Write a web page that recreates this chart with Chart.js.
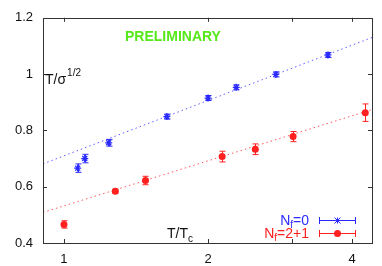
<!DOCTYPE html>
<html>
<head>
<meta charset="utf-8">
<script src="https://cdn.jsdelivr.net/npm/chart.js@4.4.1/dist/chart.umd.min.js"></script>
<style>
    body { margin: 0; background: #fff; }
</style>
</head>
<body>
<canvas id="graficoTc" width="382" height="266"></canvas>
<script>
// datos
const xTicks = [1, 2, 3, 4];
const xTickLabels = ['1', '2', '', '4'];
const yTicks = [0.4, 0.6, 0.8, 1.0, 1.2];
const yTickLabels = ['0.4', '0.6', '0.8', '1', '1.2'];

const nf0X = [1.068, 1.105, 1.24, 1.64, 2.0, 2.29, 2.77, 3.56];
const nf0Y = [0.666, 0.700, 0.756, 0.849, 0.915, 0.953, 0.999, 1.068];
const nf0Err = [0.015, 0.015, 0.012, 0.009, 0.009, 0.009, 0.009, 0.009];

const nf21X = [1.0, 1.28, 1.48, 2.14, 2.51, 3.01, 4.26];
const nf21Y = [0.466, 0.584, 0.622, 0.707, 0.733, 0.778, 0.863];
const nf21Err = [0.013, 0.007, 0.015, 0.019, 0.019, 0.018, 0.031];

// rectas de ajuste (extremos del rango x)
const ajusteX = [0.904, 4.40];
const ajusteNf0 = [0.681, 1.130];
const ajusteNf21 = [0.5085, 0.874];

const azul = '#2a2aff';
const rojo = '#ff2020';

const pares = (xs, ys) => xs.map((x, i) => ({ x: x, y: ys[i] }));

// errores, ticks hacia adentro, textos
const extras = {
    id: 'extras',
    afterDatasetsDraw(chart) {
        const ctx = chart.ctx;
        const xs = chart.scales.x;
        const ys = chart.scales.y;
        const a = chart.chartArea;

        const barras = (xArr, yArr, eArr, color) => {
            ctx.strokeStyle = color;
            ctx.lineWidth = 1;
            xArr.forEach((x, i) => {
                const px = Math.round(xs.getPixelForValue(x)) + 0.5;
                const y1 = ys.getPixelForValue(yArr[i] - eArr[i]);
                const y2 = ys.getPixelForValue(yArr[i] + eArr[i]);
                ctx.beginPath();
                ctx.moveTo(px, y1); ctx.lineTo(px, y2);
                ctx.moveTo(px - 3, y1); ctx.lineTo(px + 3, y1);
                ctx.moveTo(px - 3, y2); ctx.lineTo(px + 3, y2);
                ctx.stroke();
            });
        };
        ctx.save();
        barras(nf0X, nf0Y, nf0Err, azul);
        barras(nf21X, nf21Y, nf21Err, rojo);

        // marco
        ctx.strokeStyle = '#333';
        ctx.lineWidth = 1;
        ctx.strokeRect(Math.round(a.left) + 0.5, Math.round(a.top) + 0.5,
            Math.round(a.right - a.left), Math.round(a.bottom - a.top));
        ctx.beginPath();
        xTicks.forEach(t => {
            const px = Math.round(xs.getPixelForValue(t)) + 0.5;
            ctx.moveTo(px, a.bottom); ctx.lineTo(px, a.bottom - 4);
            ctx.moveTo(px, a.top); ctx.lineTo(px, a.top + 4);
        });
        yTicks.forEach(t => {
            const py = Math.round(ys.getPixelForValue(t)) + 0.5;
            ctx.moveTo(a.left, py); ctx.lineTo(a.left + 4, py);
            ctx.moveTo(a.right, py); ctx.lineTo(a.right - 4, py);
        });
        ctx.stroke();

        // textos
        ctx.textBaseline = 'alphabetic';
        ctx.fillStyle = '#55e81a';
        ctx.font = 'bold 14px "Liberation Sans"';
        ctx.textAlign = 'left';
        ctx.fillText('PRELIMINARY', 125, 41);

        ctx.fillStyle = '#111';
        ctx.font = '14px "Liberation Sans"';
        ctx.fillText('T/σ', 45, 84);
        let w = ctx.measureText('T/σ').width;
        ctx.font = '10px "Liberation Sans"';
        ctx.fillText('1/2', 45 + w + 1, 76);

        ctx.font = '14px "Liberation Sans"';
        ctx.fillText('T/T', 167, 238);
        w = ctx.measureText('T/T').width;
        ctx.font = '10px "Liberation Sans"';
        ctx.fillText('c', 167 + w, 242);

        // leyenda
        const leyenda = (y, base, color, marca) => {
            ctx.fillStyle = color;
            ctx.strokeStyle = color;
            ctx.font = '14px "Liberation Sans"';
            const wN = ctx.measureText('N').width;
            ctx.font = '10px "Liberation Sans"';
            const wf = ctx.measureText('f').width;
            ctx.font = '14px "Liberation Sans"';
            const wr = ctx.measureText(base).width;
            let x0 = 309 - wN - wf - wr;
            ctx.fillText('N', x0, y + 5);
            ctx.font = '10px "Liberation Sans"';
            ctx.fillText('f', x0 + wN, y + 8);
            ctx.font = '14px "Liberation Sans"';
            ctx.fillText(base, x0 + wN + wf, y + 5);
            ctx.lineWidth = 1;
            ctx.beginPath();
            ctx.moveTo(319, y + 0.5); ctx.lineTo(356, y + 0.5);
            ctx.moveTo(319.5, y - 3); ctx.lineTo(319.5, y + 4);
            ctx.moveTo(355.5, y - 3); ctx.lineTo(355.5, y + 4);
            ctx.stroke();
            marca(337.5, y + 0.5);
        };
        leyenda(220, '=0', azul, (x, y) => {
            ctx.beginPath();
            ctx.moveTo(x - 3, y - 3); ctx.lineTo(x + 3, y + 3);
            ctx.moveTo(x - 3, y + 3); ctx.lineTo(x + 3, y - 3);
            ctx.moveTo(x, y - 3); ctx.lineTo(x, y + 3);
            ctx.stroke();
        });
        leyenda(233, '=2+1', rojo, (x, y) => {
            ctx.beginPath();
            ctx.arc(x, y, 3.5, 0, Math.PI * 2);
            ctx.fill();
        });
        ctx.restore();
    }
};

document.addEventListener("DOMContentLoaded", function () {
    const graficoTc = document.getElementById('graficoTc');
    if (graficoTc) {
        new Chart(graficoTc, {
            type: 'scatter',
            data: {
                datasets: [{
                    type: 'line',
                    data: pares(ajusteX, ajusteNf0),
                    borderColor: 'rgba(42, 42, 255, 0.75)',
                    borderWidth: 1,
                    borderDash: [1.5, 3],
                    pointRadius: 0
                }, {
                    type: 'line',
                    data: pares(ajusteX, ajusteNf21),
                    borderColor: 'rgba(255, 32, 32, 0.75)',
                    borderWidth: 1,
                    borderDash: [1.5, 3],
                    pointRadius: 0
                }, {
                    data: pares(nf0X, nf0Y),
                    pointStyle: 'star',
                    radius: 3.5,
                    borderColor: azul,
                    backgroundColor: azul,
                    borderWidth: 1.3
                }, {
                    data: pares(nf21X, nf21Y),
                    pointStyle: 'circle',
                    radius: 3.5,
                    borderWidth: 0,
                    backgroundColor: rojo
                }]
            },
            options: {
                responsive: false,
                animation: false,
                layout: { padding: { top: 12, right: 10 } },
                plugins: {
                    legend: { display: false },
                    tooltip: { enabled: false }
                },
                scales: {
                    x: {
                        type: 'logarithmic',
                        min: 0.904,
                        max: 4.40,
                        afterBuildTicks: s => { s.ticks = xTicks.map(v => ({ value: v })); },
                        afterFit: s => { s.height = 23; },
                        grid: { display: false, drawTicks: false },
                        border: { display: false },
                        ticks: {
                            padding: 9,
                            color: '#111',
                            maxRotation: 0,
                            autoSkip: false,
                            font: { family: 'Liberation Sans', size: 13 },
                            callback: (v, i) => xTickLabels[i]
                        }
                    },
                    y: {
                        min: 0.4,
                        max: 1.2,
                        afterBuildTicks: s => { s.ticks = yTicks.map(v => ({ value: v })); },
                        afterFit: s => { s.width = 43; },
                        grid: { display: false, drawTicks: false },
                        border: { display: false },
                        ticks: {
                            padding: 10,
                            color: '#111',
                            font: { family: 'Liberation Sans', size: 13 },
                            callback: (v, i) => yTickLabels[i]
                        }
                    }
                }
            },
            plugins: [extras]
        });
    }
});
</script>
</body>
</html>
